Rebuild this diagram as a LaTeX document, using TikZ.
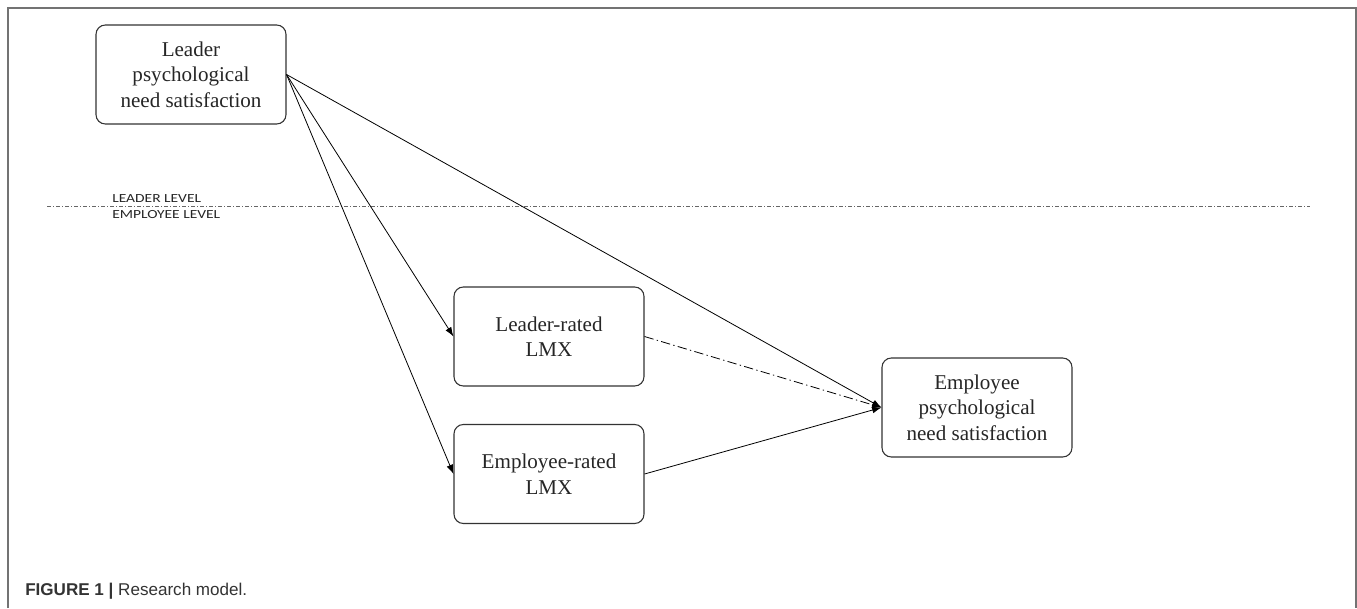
\documentclass[tikz,border=0pt]{standalone}
\usepackage{fontspec}
\setmainfont{Liberation Serif}
\newfontfamily\levelfont[FakeStretch=1.25]{Carlito}
\newfontfamily\capfont{Liberation Sans}
\usetikzlibrary{arrows.meta}

\tikzset{
	varbox/.style={draw=black!80, line width=0.8pt, rounded corners=7pt, minimum width=142.5pt, minimum height=74.25pt, align=center, font=\fontsize{15.8}{19.1}\selectfont, text=black!85},
	link/.style={line width=0.6pt, -{Latex[length=7pt,width=5pt]}},
	dashlink/.style={link, dash pattern=on 7pt off 2.5pt on 1pt off 2.5pt},
	levellbl/.style={anchor=west, inner sep=0pt, font=\levelfont\fontsize{9.3}{11}\selectfont, text=black!85},
	sepline/.style={black!60, line width=0.6pt, dash pattern=on 3pt off 1.5pt on 0.75pt off 1.5pt},
}

\begin{document}
\begin{tikzpicture}[x=0.75pt,y=-0.75pt]
		\useasboundingbox (0,0) rectangle (1357,608);
		
		%frame
		\draw[black!55, line width=1.5pt] (8,608) -- (8,8) -- (1356,8) -- (1356,608);
		
		%variables
		\node[varbox] (lead) at (191,74.5) {Leader\\psychological\\need satisfaction};
		\node[varbox] (lrlmx) at (549,336.5) {Leader-rated\\LMX};
		\node[varbox] (erlmx) at (549,474) {Employee-rated\\LMX};
		\node[varbox] (emp) at (977,407.5) {Employee\\psychological\\need satisfaction};
		
		%levels
		\coordinate (sepL) at (47,206.5);
		\coordinate (sepR) at (1310,206.5);
		\draw[sepline] (sepL) -- (sepR);
		\node[levellbl] (ldrlvl) at (112,198.7) {LEADER LEVEL};
		\node[levellbl] (emplvl) at (112,214.7) {EMPLOYEE LEVEL};
		
		%paths
		\draw[link] (lead.east) -- (lrlmx.west);
		\draw[link] (lead.east) -- (erlmx.west);
		\draw[link] (lead.east) -- (emp.west);
		\draw[dashlink] (lrlmx.east) -- (emp.west);
		\draw[link] (erlmx.east) -- (emp.west);
		
		%caption
		\node[anchor=west, inner sep=0pt, font=\capfont\fontsize{12.8}{15}\selectfont, text=black!80] (caption) at (25,591) {\textbf{FIGURE 1 |} Research model.};
		
\end{tikzpicture}
\end{document}
